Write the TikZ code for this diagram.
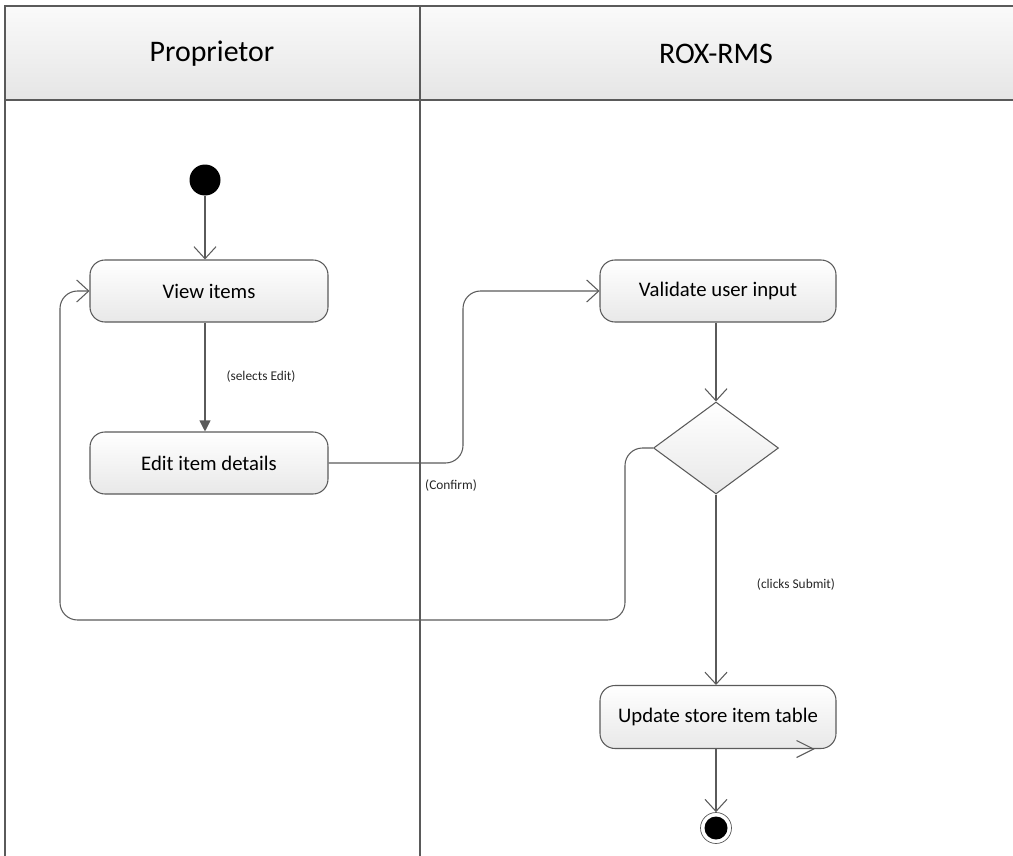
\documentclass[tikz,border=0pt]{standalone}
\usepackage{fontspec}
\setmainfont{Carlito}
\usetikzlibrary{arrows.meta,shapes.geometric}
\definecolor{linegray}{HTML}{5A5A5A}
\tikzset{
  lane/.style={draw=linegray, line width=0.6pt},
  act/.style={draw=linegray, line width=0.6pt, rounded corners=0.3cm,
    top color=white, bottom color=black!9, minimum width=4.76cm,
    minimum height=1.24cm, font=\fontsize{11.8}{13}\selectfont},
  flow/.style={draw=linegray, line width=0.6pt, -{Straight Barb[length=2.4mm,width=4.4mm]}},
  guard/.style={font=\fontsize{7.6}{9}\selectfont, text=black!85}
}
\begin{document}
\begin{tikzpicture}
  \useasboundingbox (0,0) rectangle (20.26,-17.12);
  % swimlanes
  \shade[top color=black!2, bottom color=black!10] (0.1,-0.12) rectangle (20.4,-2.0);
  \draw[lane] (20.4,-0.12) -- (0.1,-0.12) -- (0.1,-17.2);
  \draw[lane] (0.1,-2.0) -- (20.4,-2.0);
  \draw[lane] (8.4,-0.12) -- (8.4,-17.2);
  \node (lane1) at (4.24,-1.08) {\fontsize{17}{19}\selectfont Proprietor};
  \node (lane2) at (14.32,-1.08) {\fontsize{17}{19}\selectfont ROX-RMS};

  % activities
  \node[circle, fill=black, minimum size=0.62cm, inner sep=0] (start) at (4.1,-3.6) {};
  \node[act] (view) at (4.18,-5.82) {View items};
  \node[act] (edit) at (4.18,-9.26) {Edit item details};
  \node[act, minimum width=4.72cm] (validate) at (14.36,-5.82) {Validate user input};
  \node[diamond, draw=linegray, line width=0.6pt, top color=white, bottom color=black!9,
        minimum width=2.5cm, minimum height=1.84cm, inner sep=0] (dec) at (14.32,-8.96) {};
  \node[act, minimum width=4.72cm, minimum height=1.26cm] (update) at (14.36,-14.34) {Update store item table};
  \node[circle, draw=linegray, fill=white, minimum size=0.62cm, inner sep=0] (stop) at (14.32,-16.56) {};
  \fill (stop) circle (0.23);
  \coordinate (tip) at ([xshift=-0.46cm]update.south east);
  \draw[linegray, line width=0.6pt] ([shift={(-0.34,0.17)}]tip) -- (tip) -- ([shift={(-0.34,-0.17)}]tip);

  % connectors
  \coordinate (bendA) at (9.26,-7.5);
  \coordinate (loopA) at (12.5,-12.4);
  \coordinate (loopB) at (1.2,-12.4);
  \draw[flow] (start) -- (start |- view.north);
  \draw[draw=linegray, line width=0.6pt, -{Triangle[length=2.2mm,width=2.2mm]}]
    (view.south -| start) -- (edit.north -| start);
  \node[guard] (sel) at (5.22,-7.54) {(selects Edit)};
  \draw[flow, rounded corners=0.35cm] (edit.east) -| (bendA) |- (validate.west);
  \node[guard] (conf) at (9.02,-9.72) {(Confirm)};
  \draw[flow] (validate.south -| dec.north) -- (dec.north);
  \draw[flow, rounded corners=0.35cm] (dec.west) -| (loopA) -- (loopB) |- (view.west);
  \draw[flow] (dec.south) -- (update.north -| dec.south);
  \node[guard] (sub) at (15.92,-11.7) {(clicks Submit)};
  \draw[flow] (update.south -| stop) -- (stop.north);
\end{tikzpicture}
\end{document}
